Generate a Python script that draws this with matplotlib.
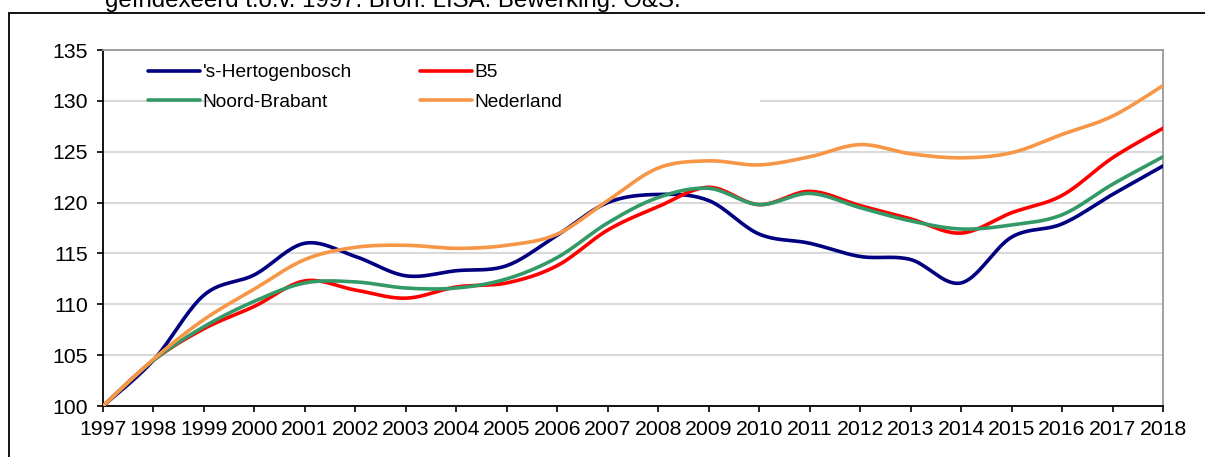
import numpy as np
import matplotlib.pyplot as plt
from matplotlib.patches import Rectangle

plt.rcParams['font.family'] = ['Liberation Sans', 'DejaVu Sans']

years = list(range(1997, 2019))

den_bosch = [100, 104.5, 110.9, 112.9, 116.0, 114.7, 112.8, 113.3, 113.8, 116.8, 120.0,
             120.8, 120.2, 116.9, 116.0, 114.7, 114.4, 112.1, 116.6, 117.9, 120.8, 123.6]
b5 = [100, 104.5, 107.6, 109.8, 112.3, 111.4, 110.6, 111.7, 112.1, 113.8, 117.3,
      119.6, 121.5, 119.8, 121.1, 119.7, 118.4, 117.0, 119.0, 120.7, 124.4, 127.3]
noord_brabant = [100, 104.5, 107.8, 110.3, 112.1, 112.2, 111.6, 111.6, 112.5, 114.6, 118.0,
                 120.5, 121.4, 119.8, 120.9, 119.5, 118.2, 117.4, 117.8, 118.8, 121.8, 124.5]
nederland = [100, 104.6, 108.5, 111.5, 114.4, 115.6, 115.8, 115.5, 115.8, 116.9, 120.2,
             123.4, 124.1, 123.7, 124.5, 125.7, 124.8, 124.4, 124.9, 126.7, 128.5, 131.5]

labels = ["'s-Hertogenbosch", "B5", "Noord-Brabant", "Nederland"]
colors = ['#000080', '#ff0000', '#339966', '#f79646']
series = [den_bosch, b5, noord_brabant, nederland]


def smooth(x, y, n=20):
    # Excel-like smoothed line: cubic bezier with catmull-rom control points
    x = np.asarray(x, float)
    y = np.asarray(y, float)
    xs, ys = [], []
    t = np.linspace(0, 1, n, endpoint=False)
    for i in range(len(x) - 1):
        i0 = max(i - 1, 0)
        i3 = min(i + 2, len(x) - 1)
        p0 = np.array([x[i], y[i]])
        p3 = np.array([x[i + 1], y[i + 1]])
        p1 = p0 + (p3 - np.array([x[i0], y[i0]])) / 6
        p2 = p3 - (np.array([x[i3], y[i3]]) - p0) / 6
        pts = ((1 - t) ** 3)[:, None] * p0 + (3 * (1 - t) ** 2 * t)[:, None] * p1 \
            + (3 * (1 - t) * t ** 2)[:, None] * p2 + (t ** 3)[:, None] * p3
        xs.extend(pts[:, 0])
        ys.extend(pts[:, 1])
    xs.append(x[-1])
    ys.append(y[-1])
    return xs, ys


fig = plt.figure(figsize=(12.05, 4.57), dpi=100)
W, H = 1205, 457
ax = fig.add_axes([103 / W, (H - 406) / H, 1060 / W, 356 / H])

# outer frame and caption (cut off at the top, as in the source)
fig.patches.append(Rectangle((9 / W, -0.2), 1.2, (H - 13) / H + 0.2, transform=fig.transFigure,
                             fill=False, edgecolor='black', linewidth=1.3))
fig.text(105 / W, (H - 7) / H, 'geïndexeerd t.o.v. 1997. Bron: LISA. Bewerking: O&S.',
         fontsize=17.3, va='baseline', ha='left')

handles = []
for vals, lab, col in zip(series, labels, colors):
    sx, sy = smooth(years, vals)
    h, = ax.plot(sx, sy, color=col, linewidth=2.6, label=lab, solid_capstyle='round', zorder=3)
    handles.append(h)

ax.set_xlim(1997, 2018)
ax.set_ylim(100, 135)
ax.set_xticks(years)
ax.set_yticks(range(100, 136, 5))
ax.tick_params(labelsize=15.3, direction='out', length=4, width=1.2, color='black')
ax.tick_params(axis='y', pad=7)
ax.tick_params(axis='x', pad=6)

ax.set_axisbelow(True)
ax.yaxis.grid(True, color='#d9d9d9', linewidth=1.5)
for s in ['left', 'bottom']:
    ax.spines[s].set_color('black')
    ax.spines[s].set_linewidth(1.3)
for s in ['top', 'right']:
    ax.spines[s].set_color('#999999')
    ax.spines[s].set_linewidth(1.3)

# white legend area hiding the gridline behind it
ax.add_patch(Rectangle((112 / 1060, (406 - 118) / 356), (657 - 112) / 1060, 58 / 356,
                       transform=ax.transAxes, facecolor='white', edgecolor='none', zorder=1))

# row order: 's-Hertogenbosch, B5 / Noord-Brabant, Nederland
order = [0, 2, 1, 3]
leg = ax.legend([handles[i] for i in order], [labels[i] for i in order],
                ncol=2, loc='upper left', bbox_to_anchor=((148 - 103) / 1060, (406 - 64) / 356),
                frameon=False, fontsize=13.8, handlelength=2.7, handletextpad=0.15,
                columnspacing=3.55, labelspacing=0.62, borderpad=0, borderaxespad=0)
for line in leg.get_lines():
    line.set_linewidth(2.6)

fig.savefig('out.png', dpi=100)
